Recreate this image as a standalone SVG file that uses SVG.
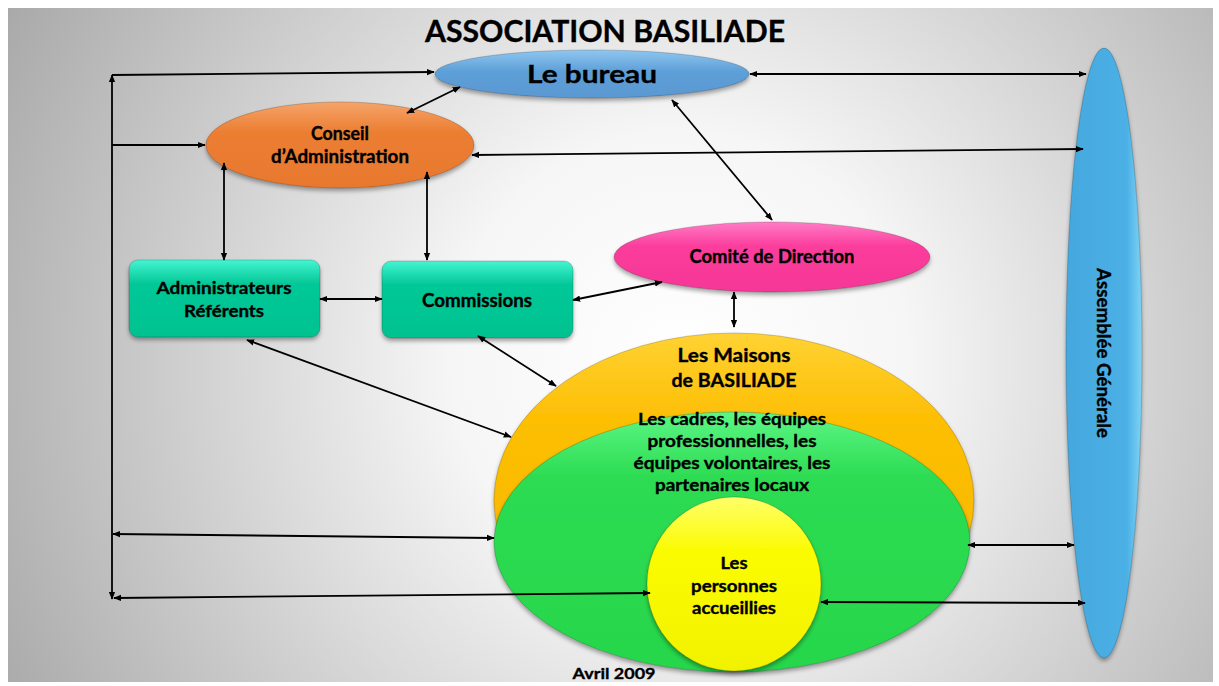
<svg xmlns="http://www.w3.org/2000/svg" width="1219" height="686" viewBox="0 0 1219 686">
<defs>
<style>
text{font-family:Lato,"Liberation Sans","DejaVu Sans",sans-serif;font-weight:700;fill:#000;stroke:#000;stroke-width:0.35;text-anchor:middle}
.ca{fill:none;stroke:#000;stroke-width:1.8;marker-start:url(#ah);marker-end:url(#ah)}
.ce{fill:none;stroke:#000;stroke-width:1.8;marker-end:url(#ah)}
.sh{filter:url(#ds);stroke:rgba(0,0,0,0.18);stroke-width:1}
</style>
<radialGradient id="bg" gradientUnits="userSpaceOnUse" cx="680" cy="360" r="760">
<stop offset="0" stop-color="#ffffff"/>
<stop offset="0.3" stop-color="#f6f6f6"/>
<stop offset="1" stop-color="#a9a9a9"/>
</radialGradient>
<linearGradient id="gBlue" x1="0" y1="0" x2="0" y2="1"><stop offset="0" stop-color="#8fc6ef"/><stop offset="0.45" stop-color="#5d9fd8"/><stop offset="1" stop-color="#5a98d2"/></linearGradient>
<linearGradient id="gOrange" x1="0" y1="0" x2="0" y2="1"><stop offset="0" stop-color="#f5a46a"/><stop offset="0.35" stop-color="#ec7e33"/><stop offset="1" stop-color="#e8782e"/></linearGradient>
<linearGradient id="gPink" x1="0" y1="0" x2="0" y2="1"><stop offset="0" stop-color="#ff7dc6"/><stop offset="0.35" stop-color="#fb3c9b"/><stop offset="1" stop-color="#f53797"/></linearGradient>
<linearGradient id="gTeal" x1="0" y1="0" x2="0" y2="1"><stop offset="0" stop-color="#44f5d2"/><stop offset="0.3" stop-color="#05c898"/><stop offset="1" stop-color="#02c290"/></linearGradient>
<linearGradient id="gGold" x1="0" y1="0" x2="0" y2="1"><stop offset="0" stop-color="#ffd233"/><stop offset="0.25" stop-color="#fdbf05"/><stop offset="1" stop-color="#f5b500"/></linearGradient>
<linearGradient id="gGreen" x1="0" y1="0" x2="0" y2="1"><stop offset="0" stop-color="#5cf785"/><stop offset="0.25" stop-color="#2ddc52"/><stop offset="1" stop-color="#27d64b"/></linearGradient>
<linearGradient id="gYellow" x1="0" y1="0" x2="0" y2="1"><stop offset="0" stop-color="#ffff6a"/><stop offset="0.3" stop-color="#fbfb05"/><stop offset="1" stop-color="#f2f200"/></linearGradient>
<linearGradient id="gSky" x1="0" y1="0" x2="1" y2="0"><stop offset="0" stop-color="#44a8de"/><stop offset="0.8" stop-color="#4cb0e5"/><stop offset="1" stop-color="#7fd4f5"/></linearGradient>
<filter id="ds" x="-10%" y="-10%" width="120%" height="130%">
<feDropShadow dx="0" dy="3" stdDeviation="2" flood-color="#000" flood-opacity="0.35"/>
</filter>
<marker id="ah" viewBox="0 0 10 10" refX="9" refY="5" markerWidth="8" markerHeight="8" markerUnits="userSpaceOnUse" orient="auto-start-reverse">
<path d="M0,1 L10,5 L0,9 z" fill="#000"/>
</marker>
</defs>
<rect x="0" y="0" width="1219" height="686" fill="#ffffff"/>
<rect x="8" y="8" width="1205" height="674" fill="url(#bg)"/>
<text x="605" y="42" font-size="30" textLength="360" lengthAdjust="spacingAndGlyphs">ASSOCIATION BASILIADE</text>

<g id="node-bureau">
<ellipse class="sh" cx="592" cy="74" rx="157" ry="24" fill="url(#gBlue)"/>
<text x="592" y="83" font-size="25" textLength="130" lengthAdjust="spacingAndGlyphs">Le bureau</text>
</g>
<g id="node-conseil">
<ellipse class="sh" cx="340" cy="145" rx="134" ry="43" fill="url(#gOrange)"/>
<text x="340" y="140" font-size="18" textLength="58" lengthAdjust="spacingAndGlyphs">Conseil</text>
<text x="340" y="163" font-size="18" textLength="138" lengthAdjust="spacingAndGlyphs">d’Administration</text>
</g>
<g id="node-comite">
<ellipse class="sh" cx="772" cy="257" rx="158" ry="35" fill="url(#gPink)"/>
<text x="772" y="263" font-size="18" textLength="165" lengthAdjust="spacingAndGlyphs">Comité de Direction</text>
</g>
<g id="node-admin">
<rect class="sh" x="129" y="260" width="191" height="77" rx="9" fill="url(#gTeal)"/>
<text x="224" y="294" font-size="17" textLength="135" lengthAdjust="spacingAndGlyphs">Administrateurs</text>
<text x="224" y="317" font-size="17" textLength="80" lengthAdjust="spacingAndGlyphs">Référents</text>
</g>
<g id="node-commissions">
<rect class="sh" x="382" y="261" width="191" height="77" rx="9" fill="url(#gTeal)"/>
<text x="477" y="307" font-size="18" textLength="110" lengthAdjust="spacingAndGlyphs">Commissions</text>
</g>
<g id="node-assemblee">
<ellipse class="sh" cx="1104" cy="353" rx="38" ry="305" fill="url(#gSky)"/>
<text transform="translate(1097,353) rotate(90)" x="0" y="0" font-size="18" textLength="170" lengthAdjust="spacingAndGlyphs">Assemblée Générale</text>
</g>
<g id="node-maisons">
<ellipse class="sh" cx="734" cy="500" rx="240" ry="167" fill="url(#gGold)"/>
<text x="734" y="362" font-size="19" textLength="113" lengthAdjust="spacingAndGlyphs">Les Maisons</text>
<text x="734" y="387" font-size="19" textLength="125" lengthAdjust="spacingAndGlyphs">de BASILIADE</text>
</g>
<g id="node-equipes">
<ellipse class="sh" cx="732" cy="542" rx="238" ry="130" fill="url(#gGreen)"/>
<text x="732" y="425" font-size="17" textLength="188" lengthAdjust="spacingAndGlyphs">Les cadres, les équipes</text>
<text x="732" y="447" font-size="17" textLength="169" lengthAdjust="spacingAndGlyphs">professionnelles, les</text>
<text x="732" y="469" font-size="17" textLength="197" lengthAdjust="spacingAndGlyphs">équipes volontaires, les</text>
<text x="732" y="491" font-size="17" textLength="154" lengthAdjust="spacingAndGlyphs">partenaires locaux</text>
</g>
<g id="node-personnes">
<circle class="sh" cx="734" cy="584" r="87" fill="url(#gYellow)"/>
<text x="734" y="569" font-size="17" textLength="27" lengthAdjust="spacingAndGlyphs">Les</text>
<text x="734" y="592" font-size="17" textLength="86" lengthAdjust="spacingAndGlyphs">personnes</text>
<text x="734" y="614" font-size="17" textLength="84" lengthAdjust="spacingAndGlyphs">accueillies</text>
</g>

<g id="connectors">
<line class="ca" x1="112" y1="75" x2="112" y2="599"/>
<line class="ce" x1="112" y1="75" x2="434" y2="72"/>
<line class="ce" x1="112" y1="145" x2="205" y2="145"/>
<line class="ca" x1="460" y1="87" x2="407" y2="113"/>
<line class="ca" x1="472" y1="155" x2="1083" y2="149"/>
<line class="ca" x1="750" y1="74" x2="1086" y2="74"/>
<line class="ca" x1="672" y1="100" x2="772" y2="220"/>
<line class="ca" x1="224" y1="163" x2="224" y2="260"/>
<line class="ca" x1="427" y1="172" x2="427" y2="260"/>
<line class="ca" x1="320" y1="299" x2="382" y2="299"/>
<line class="ca" x1="573" y1="300" x2="662" y2="282"/>
<line class="ca" x1="734" y1="292" x2="734" y2="327"/>
<line class="ca" x1="478" y1="336" x2="556" y2="386"/>
<line class="ca" x1="247" y1="340" x2="511" y2="437"/>
<line class="ca" x1="113" y1="534" x2="494" y2="538"/>
<line class="ca" x1="114" y1="598" x2="650" y2="593"/>
<line class="ca" x1="968" y1="545" x2="1074" y2="545"/>
<line class="ca" x1="821" y1="602" x2="1085" y2="603"/>
</g>
<text x="614" y="679" font-size="16" textLength="83" lengthAdjust="spacingAndGlyphs">Avril 2009</text>
</svg>
